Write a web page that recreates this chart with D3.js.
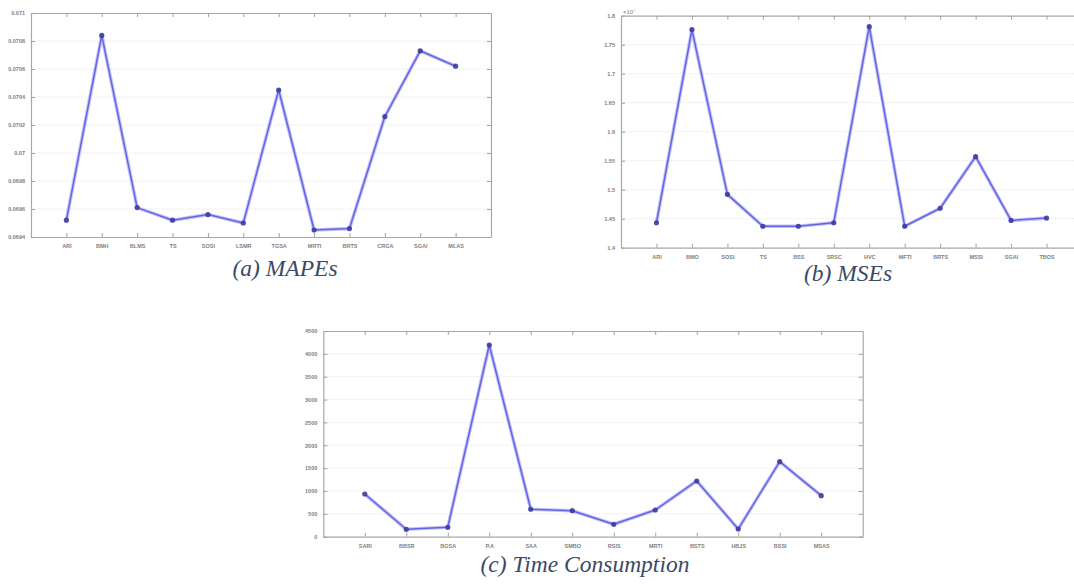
<!DOCTYPE html>
<html>
<head>
<meta charset="utf-8">
<script src="https://cdn.jsdelivr.net/npm/d3@7"></script>
<style>
  html, body { margin: 0; padding: 0; background: #ffffff; }
  svg { display: block; }
</style>
</head>
<body>
<svg id="chart" width="1074" height="584"></svg>
<script>
// ---------- data ----------
const catsA = ["ARI", "BMH", "BLMS", "TS", "SOSI", "LSMR", "TGSA", "MRTI", "BRTS", "CRGA", "SGAI", "MLAS"];
const mapeValues = [0.06952, 0.07084, 0.06961, 0.06952, 0.06956, 0.06950, 0.07045, 0.06945, 0.06946, 0.07026, 0.07073, 0.07062];
const mapeTicks = [0.0694, 0.0696, 0.0698, 0.07, 0.0702, 0.0704, 0.0706, 0.0708, 0.071];

const catsB = ["ARI", "BMO", "SOSI", "TS", "BSS", "SRSC", "HVC", "MFTI", "BRTS", "MSSI", "SGAI", "TBOS"];
const mseValues = [1.443, 1.776, 1.492, 1.437, 1.437, 1.443, 1.781, 1.437, 1.468, 1.557, 1.447, 1.451];
const mseTicks = [1.4, 1.45, 1.5, 1.55, 1.6, 1.65, 1.7, 1.75, 1.8];
const mseExponent = "×10⁷";

const catsC = ["SARI", "BBSR", "BGSA", "P.A", "SAA", "SMBO", "RSIS", "MRTI", "BSTS", "HBJS", "BSSI", "MSAS"];
const timeValues = [934, 162, 206, 4194, 600, 569, 271, 584, 1219, 168, 1641, 897];
const timeTicks = [0, 500, 1000, 1500, 2000, 2500, 3000, 3500, 4000, 4500];

const captions = ["(a) MAPEs", "(b) MSEs", "(c) Time Consumption"];

// ---------- drawing ----------
const svg = d3.select("#chart");
svg.append("rect").attr("width", 1074).attr("height", 584).attr("fill", "#ffffff");

function drawPanel(cfg) {
  const g = svg.append("g");
  const x = d3.scaleLinear().domain([0, cfg.cats.length + 1]).range([cfg.left, cfg.right]);
  const y = d3.scaleLinear().domain([cfg.ticks[0], cfg.ticks[cfg.ticks.length - 1]]).range([cfg.bottom, cfg.top]);
  const idx = d3.range(1, cfg.cats.length + 1);

  // grid
  g.append("g").selectAll("line").data(cfg.ticks.slice(1, -1)).join("line")
    .attr("x1", cfg.left).attr("x2", cfg.right)
    .attr("y1", d => y(d)).attr("y2", d => y(d))
    .attr("stroke", "#e6e6e6").attr("stroke-width", 1).attr("stroke-dasharray", "1,1");

  const tickLen = 4;
  const bottomAx = d3.axisBottom(x).tickValues(idx).tickFormat(i => cfg.cats[i - 1])
    .tickSizeInner(-tickLen).tickSizeOuter(0).tickPadding(7);
  const topAx = d3.axisTop(x).tickValues(idx).tickFormat("").tickSizeInner(-tickLen).tickSizeOuter(0);
  const leftAx = d3.axisLeft(y).tickValues(cfg.ticks).tickFormat(cfg.fmt)
    .tickSizeInner(-tickLen).tickSizeOuter(0).tickPadding(6);
  const rightAx = d3.axisRight(y).tickValues(cfg.ticks).tickFormat("").tickSizeInner(-tickLen).tickSizeOuter(0);

  const axes = [
    g.append("g").attr("transform", `translate(0,${cfg.bottom})`).call(bottomAx),
    g.append("g").attr("transform", `translate(0,${cfg.top})`).call(topAx),
    g.append("g").attr("transform", `translate(${cfg.left},0)`).call(leftAx),
    g.append("g").attr("transform", `translate(${cfg.right},0)`).call(rightAx)
  ];
  axes.forEach(a => {
    a.select(".domain").attr("stroke", "#a8a8a8").attr("stroke-width", 1.2);
    a.selectAll(".tick line").attr("stroke", "#a0a0a0");
    a.selectAll("text").attr("fill", "#808080").attr("font-size", 5.5)
      .attr("font-family", "'Liberation Sans', Arial, sans-serif").attr("font-weight", "bold");
  });

  if (cfg.exponent) {
    g.append("text").attr("x", cfg.left + 2).attr("y", cfg.top - 2)
      .attr("font-size", 6).attr("fill", "#808080")
      .attr("font-family", "'Liberation Sans', Arial, sans-serif")
      .text(cfg.exponent);
  }

  const line = d3.line().x((d, i) => x(i + 1)).y(d => y(d));
  g.append("path").datum(cfg.vals).attr("d", line)
    .attr("fill", "none").attr("stroke", "#c4c4f6").attr("stroke-width", 3.6)
    .attr("stroke-linejoin", "round");
  g.append("path").datum(cfg.vals).attr("d", line)
    .attr("fill", "none").attr("stroke", "#6464e8").attr("stroke-width", 1.5)
    .attr("stroke-linejoin", "round");
  g.append("g").selectAll("circle").data(cfg.vals).join("circle")
    .attr("cx", (d, i) => x(i + 1)).attr("cy", d => y(d)).attr("r", 2.6)
    .attr("fill", "#3c3ca0").attr("opacity", 0.9);

  svg.append("text").attr("x", cfg.capX).attr("y", cfg.capY)
    .attr("text-anchor", "middle")
    .style("font-family", "'Liberation Serif', 'Times New Roman', serif")
    .style("font-style", "italic")
    .style("font-size", "23.5px")
    .attr("fill", "#3b4a66")
    .text(cfg.caption);
}

drawPanel({
  cats: catsA, vals: mapeValues, ticks: mapeTicks, fmt: d => d3.format("")(+d.toFixed(4)),
  left: 31, right: 491, top: 13, bottom: 237,
  caption: captions[0], capX: 285, capY: 276
});
drawPanel({
  cats: catsB, vals: mseValues, ticks: mseTicks, fmt: d => d3.format("")(+d.toFixed(2)),
  left: 621, right: 1082, top: 15.7, bottom: 247.7, exponent: mseExponent,
  caption: captions[1], capX: 848, capY: 281
});
drawPanel({
  cats: catsC, vals: timeValues, ticks: timeTicks, fmt: d => d3.format("")(d),
  left: 323.3, right: 862.7, top: 331, bottom: 536.7,
  caption: captions[2], capX: 585, capY: 572
});
</script>
</body>
</html>
